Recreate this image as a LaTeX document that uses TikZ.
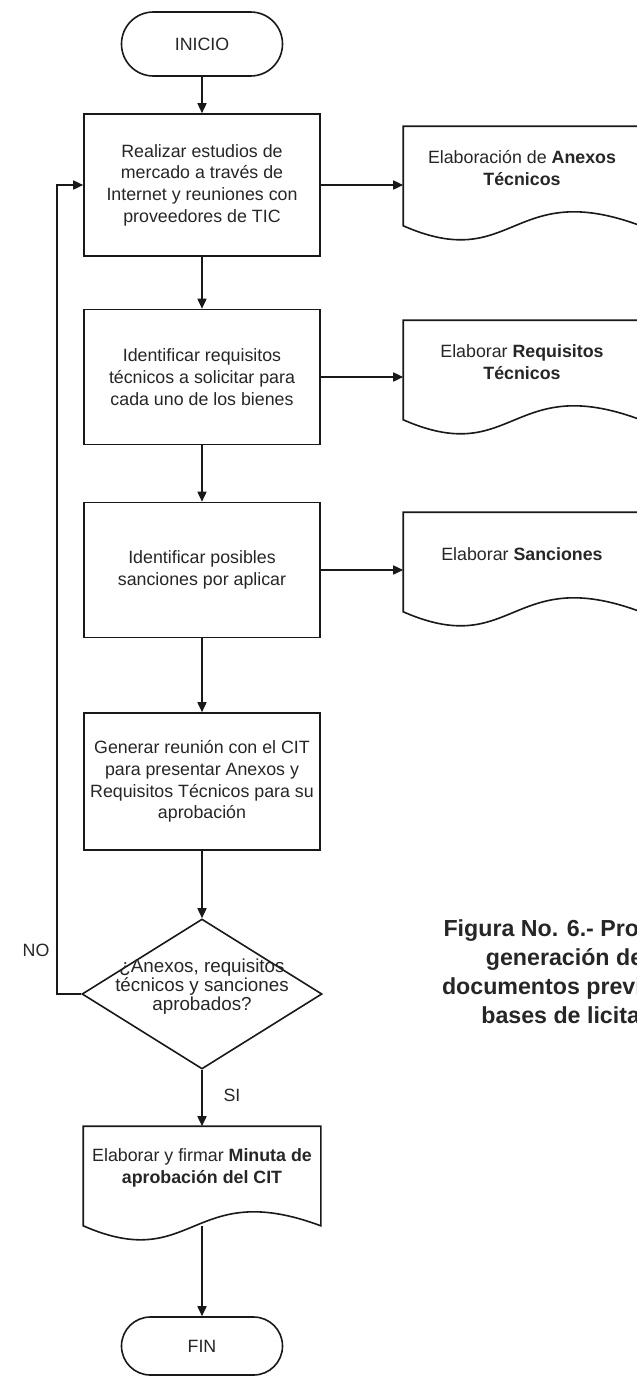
\documentclass[tikz,border=0pt]{standalone}
\usepackage{fontspec}
\setmainfont{Liberation Sans}
\usetikzlibrary{arrows.meta,shapes.geometric}

% document symbol: flat top and sides, wavy bottom edge below the text box
\newcommand\docoutline[1]{%
  \draw[outline] ([yshift=-16pt]#1.south east)
    .. controls +(-129.8pt,48.5pt) and +(110.9pt,-48.5pt) .. ([yshift=-16pt]#1.south west)
    -- (#1.north west) -- (#1.north east) -- cycle;}

\begin{document}
\begin{tikzpicture}[x=1pt,y=-1pt,line width=1.6pt,
  outline/.style={draw=black!90},
  flow/.style={draw=black!90,-{Triangle[length=10pt,width=9pt]}},
  base/.style={font=\fontsize{17.8}{21.7}\selectfont,text=black!85,align=center},
  terminal/.style={base,draw=black!90,rounded corners=31.9pt,minimum width=161pt,minimum height=64pt,inner sep=0pt},
  process/.style={base,draw=black!90,minimum width=236pt,inner sep=0pt},
  docbox/.style={base,minimum width=236pt,minimum height=82pt,inner sep=0pt},
  decision/.style={draw=black!90,diamond,minimum width=240pt,minimum height=150pt,inner sep=0pt},
  qtext/.style={font=\fontsize{18.8}{19}\selectfont,text=black!85,align=center},
  caption/.style={font=\fontsize{23.2}{29}\selectfont\bfseries,text=black!85,align=center}]

\useasboundingbox (0,0) rectangle (637,1376);
\clip (0,0) rectangle (637,1376);
\fill[white] (0,0) rectangle (637,1376);

% main column
\node[terminal] (start) at (202,44) {INICIO};
\node[process,minimum height=142pt] (b1) at (202,185)
  {Realizar estudios de\\mercado a través de\\Internet y reuniones con\\proveedores de TIC};
\node[process,minimum height=135pt] (b2) at (202,377)
  {Identificar requisitos\\técnicos a solicitar para\\cada uno de los bienes};
\node[process,minimum height=135pt] (b3) at (202,570)
  {Identificar posibles\\sanciones por aplicar};
\node[process,minimum height=137pt] (b4) at (202,781.5)
  {Generar reunión con el CIT\\para presentar Anexos y\\Requisitos Técnicos para su\\aprobación};
\node[decision] (q) at (202,994) {};
\node[qtext] (qlabel) at (202,987) {¿Anexos, requisitos\\técnicos y sanciones\\aprobados?};
\node[docbox] (m) at (202,1168) {Elaborar y firmar \textbf{Minuta de}\\\textbf{aprobación del CIT}};
\docoutline{m}
\node[terminal,minimum height=58pt,rounded corners=28.9pt] (end) at (202,1346) {FIN};

% documents on the right
\node[docbox] (d1) at (522,168) {Elaboración de \textbf{Anexos}\\\textbf{Técnicos}};
\docoutline{d1}
\node[docbox] (d2) at (522,362) {Elaborar \textbf{Requisitos}\\\textbf{Técnicos}};
\docoutline{d2}
\node[docbox] (d3) at (522,554) {Elaborar \textbf{Sanciones}};
\docoutline{d3}

% connectors
\draw[flow] (start) -- (b1);
\draw[flow] (b1) -- (b2);
\draw[flow] (b2) -- (b3);
\draw[flow] (b3) -- (b4);
\draw[flow] (b4) -- (q);
\draw[flow] (q) -- (m);
\draw[flow] ([yshift=-16pt]m.south) -- (end);
\draw[flow] (b1.east) -- (d1.west |- b1.east);
\draw[flow] (b2.east) -- (d2.west |- b2.east);
\draw[flow] (b3.east) -- (d3.west |- b3.east);
\coordinate (loop) at (57,994);
\draw[flow] (q.west) -- (loop) |- (b1.west);

% branch labels
\node[base] (no) at (36,950) {NO};
\node[base] (si) at (232,1095) {SI};

% caption
\node[caption] (cap) at (584.5,972)
  {Figura No. 6.- Proceso de\\generación de los\\documentos previos a las\\bases de licitación};
\end{tikzpicture}
\end{document}
